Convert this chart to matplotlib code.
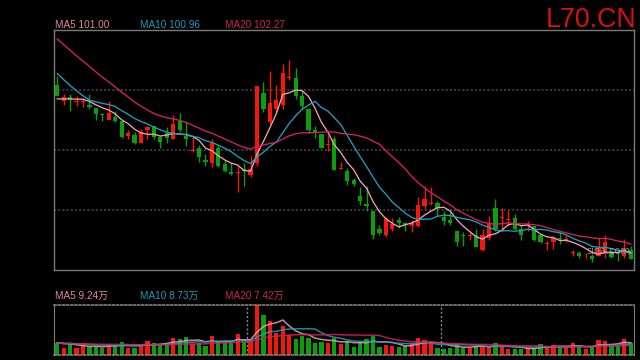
import numpy as np
import matplotlib
matplotlib.use("Agg")
import matplotlib.pyplot as plt

# daily candles (90 sessions)
opens = [128.83, 126.06, 126.67, 125.9, 125.9, 125.5, 124.94, 123.8, 122.9, 123.44,
         122.67, 120.2, 120.4, 119.06, 121.2, 121.9, 120.0, 120.67, 119.67, 122.67,
         120.2, 117.7, 118.2, 116.33, 115.67, 118.2, 115.5, 114.33, 114.1, 114.8,
         113.83, 115.78, 127.44, 122.56, 124.67, 125.5, 129.9, 129.94, 127.0, 124.67,
         121.33, 120.5, 118.72, 119.67, 114.83, 114.5, 112.9, 110.33, 109.0, 107.72,
         104.78, 103.67, 104.78, 106.17, 105.67, 105.2, 105.2, 108.56, 108.9, 109.1,
         106.72, 106.17, 104.39, 103.83, 103.56, 103.67, 101.33, 103.28, 108.28, 106.56,
         106.22, 106.61, 104.67, 105.33, 105.22, 103.67, 102.28, 102.55, 103.28, 103.0,
         100.72, 100.67, 100.17, 100.33, 100.22, 100.78, 100.78, 100.28, 100.22, 101.22]
highs = [130.3, 127.33, 127.33, 126.9, 126.5, 127.17, 124.94, 124.1, 126.06, 124.4,
         122.67, 121.2, 120.9, 121.4, 122.0, 122.0, 120.33, 121.8, 123.67, 124.1,
         122.7, 120.2, 118.8, 117.17, 119.8, 118.8, 116.33, 115.8, 115.2, 115.8,
         116.9, 128.56, 129.28, 131.1, 128.67, 132.33, 133.0, 131.6, 127.9, 124.67,
         121.9, 120.5, 120.5, 120.33, 115.9, 115.0, 113.28, 111.72, 111.9, 107.72,
         105.5, 106.78, 106.6, 106.78, 105.9, 106.22, 110.1, 111.9, 111.72, 109.39,
         107.72, 107.72, 104.39, 104.22, 104.22, 104.78, 104.78, 107.0, 109.78, 108.28,
         107.9, 107.33, 105.5, 106.06, 105.22, 103.67, 102.72, 103.55, 104.22, 103.83,
         101.33, 101.06, 100.78, 100.6, 103.28, 103.83, 101.33, 101.06, 103.11, 102.0]
lows = [126.9, 125.5, 124.4, 125.33, 125.1, 124.78, 122.9, 122.7, 122.9, 122.56,
        119.9, 119.67, 118.9, 119.06, 119.67, 119.8, 118.2, 119.1, 119.67, 120.9,
        118.56, 117.56, 116.0, 115.33, 115.1, 115.1, 114.2, 113.8, 110.9, 112.0,
        113.44, 115.2, 124.2, 122.17, 124.2, 124.78, 129.56, 126.44, 124.78, 120.78,
        119.94, 118.17, 117.72, 114.56, 114.78, 112.1, 111.9, 108.83, 107.72, 103.11,
        103.67, 103.39, 104.39, 104.94, 104.39, 104.22, 105.1, 108.1, 108.83, 106.9,
        105.5, 105.5, 102.0, 101.9, 103.0, 101.78, 101.06, 103.0, 104.39, 104.39,
        105.22, 104.56, 102.9, 104.4, 102.72, 102.44, 101.22, 101.44, 102.17, 102.55,
        100.22, 99.94, 99.94, 99.22, 100.22, 99.94, 99.94, 99.39, 99.94, 99.67]
closes = [126.9, 126.78, 126.2, 126.0, 126.0, 125.06, 124.0, 123.7, 124.1, 122.83,
          120.1, 120.8, 119.1, 121.0, 121.7, 120.1, 119.33, 119.9, 122.33, 121.17,
          119.67, 117.8, 116.7, 115.9, 119.0, 115.33, 114.4, 114.0, 114.33, 114.4,
          114.8, 128.56, 124.67, 125.67, 126.17, 130.78, 130.0, 126.9, 125.2, 121.33,
          121.0, 118.17, 118.83, 114.56, 114.9, 112.72, 112.17, 109.39, 108.56, 103.83,
          104.11, 106.44, 105.5, 105.67, 105.5, 105.67, 108.83, 109.67, 109.0, 108.28,
          106.06, 105.67, 102.56, 103.56, 103.78, 101.78, 103.67, 105.78, 104.78, 106.72,
          106.44, 104.67, 103.83, 105.5, 102.9, 102.56, 102.39, 103.17, 103.11, 103.11,
          100.83, 100.22, 100.28, 99.78, 101.61, 102.55, 100.06, 100.17, 101.44, 99.78]
# volume in 万
volumes = [9.2, 5.5, 8.0, 5.5, 7.0, 6.2, 6.2, 5.5, 8.3, 7.3,
           9.8, 5.5, 5.5, 8.0, 10.5, 9.2, 7.3, 8.3, 13.0, 12.0,
           13.5, 8.3, 9.2, 6.8, 14.5, 10.5, 9.2, 8.8, 16.0, 12.0,
           11.3, 37.5, 30.0, 25.5, 16.5, 21.8, 15.0, 12.0, 14.3, 13.0,
           9.0, 10.0, 9.2, 12.5, 8.3, 10.0, 6.2, 9.5, 12.0, 14.5,
           6.2, 7.5, 6.8, 6.2, 7.0, 8.0, 13.0, 11.3, 8.8, 5.5,
           4.5, 5.5, 8.3, 5.5, 5.5, 7.0, 6.8, 6.2, 9.2, 6.2,
           4.5, 4.5, 4.5, 5.0, 5.5, 8.3, 5.5, 7.5, 6.2, 5.5,
           9.2, 6.2, 4.5, 6.2, 11.3, 10.5, 7.0, 7.0, 12.0, 9.2]

# sessions before the window, estimated from where the MA lines start
prior_close = [146, 145, 144.5, 143.5, 143, 142, 141, 140.5, 139.5, 137,
               137, 136, 135, 134, 132.5, 126.8, 126.3, 126.1, 126.1]
prior_vol = [8, 9, 8, 9, 8, 9, 8, 8, 9, 8, 9, 8, 9, 9, 10, 9, 9, 9, 10]

price_labels = ["MA5 101.00", "MA10 100.96", "MA20 102.27"]
vol_labels = ["MA5 9.24万", "MA10 8.73万", "MA20 7.42万"]
month_breaks = [29.5, 59.5]

RED = "#f5170a"
GREEN = "#0a9e0a"
MA_COLORS = ["#eea0b4", "#1d9fbf", "#d5215e"]
LABEL_COLORS = ["#e08aa0", "#1a9ab8", "#d0205a"]
GRID = "#4a4a4a"
FRAME = "#7a7a7a"


def moving_avg(prior, vals, n):
    full = np.concatenate([prior, vals])
    return np.convolve(full, np.ones(n) / n, mode="valid")[-len(vals):]


o = np.array(opens)
h = np.array(highs)
l = np.array(lows)
c = np.array(closes)
v = np.array(volumes)
x = np.arange(len(c))
cols = np.where(c >= o, RED, GREEN)

plt.rcParams["lines.scale_dashes"] = False
fig = plt.figure(figsize=(6.4, 3.6), dpi=100, facecolor="black")
ax = fig.add_axes([54 / 640, 1 - 269.5 / 360, 580 / 640, 240 / 360], facecolor="black")
axv = fig.add_axes([54 / 640, 1 - 355 / 360, 580 / 640, 50 / 360], facecolor="black")

# price panel
for yg in [108, 118, 128]:
    ax.axhline(yg, color=GRID, lw=1.1, ls=(0, (1.5, 1.5)), zorder=1)
ax.vlines(x, l, h, colors=cols, lw=1.0, zorder=2)
ax.bar(x, np.maximum(np.abs(c - o), 0.15), bottom=np.minimum(o, c), width=0.64,
       color=cols, lw=0, zorder=3)
for n, col in zip([5, 10, 20], MA_COLORS):
    ax.plot(x, moving_avg(prior_close, c, n), color=col, lw=0.95, zorder=4)
ax.set_xlim(-0.5, len(c) - 0.5)
ax.set_ylim(98, 138)
ax.set_xticks([])
ax.set_yticks([])
for s in ax.spines.values():
    s.set_color(FRAME)
    s.set_linewidth(1.0)
ax.text(0.955, 0.078, "sina.com", transform=ax.transAxes, ha="center", va="center",
        fontsize=7, color="#b0b0b0", alpha=0.75, family="DejaVu Sans", zorder=5)

# volume panel
axv.bar(x, v, width=0.64, color=cols, lw=0, zorder=2)
for n, col in zip([5, 10, 20], MA_COLORS):
    axv.plot(x, moving_avg(prior_vol, v, n), color=col, lw=1.1, alpha=0.85, zorder=3)
for xb in month_breaks:
    axv.axvline(xb, color="#8a8a8a", lw=1.0, ls=(0, (1.5, 1.5)), zorder=1)
axv.set_xlim(-0.5, len(c) - 0.5)
axv.set_ylim(0, v.max())
axv.set_xticks([])
axv.set_yticks([])
for side in ["left", "right"]:
    axv.spines[side].set_color(FRAME)
for side in ["top", "bottom"]:
    axv.spines[side].set_color("#8a8a8a")
    axv.spines[side].set_linestyle((0, (1.5, 1.5)))
    axv.spines[side].set_linewidth(1.1)

# headers
xs = [55 / 640, 140 / 640, 225 / 640]
for xt, txt, col in zip(xs, price_labels, LABEL_COLORS):
    fig.text(xt, 1 - 27.7 / 360, txt, color=col, fontsize=7.2, va="baseline",
             family=["Liberation Sans", "DejaVu Sans"])
for xt, txt, col in zip(xs, vol_labels, LABEL_COLORS):
    fig.text(xt, 1 - 299 / 360, txt, color=col, fontsize=7.2, va="baseline",
             family=["Liberation Sans", "Noto Sans CJK SC"])
fig.text(636 / 640, 1 - 26.7 / 360, "L70.CN", color="#d81010", fontsize=19.3,
         ha="right", va="baseline", family=["Liberation Sans", "DejaVu Sans"])

fig.savefig("out.png", dpi=100, facecolor="black")
